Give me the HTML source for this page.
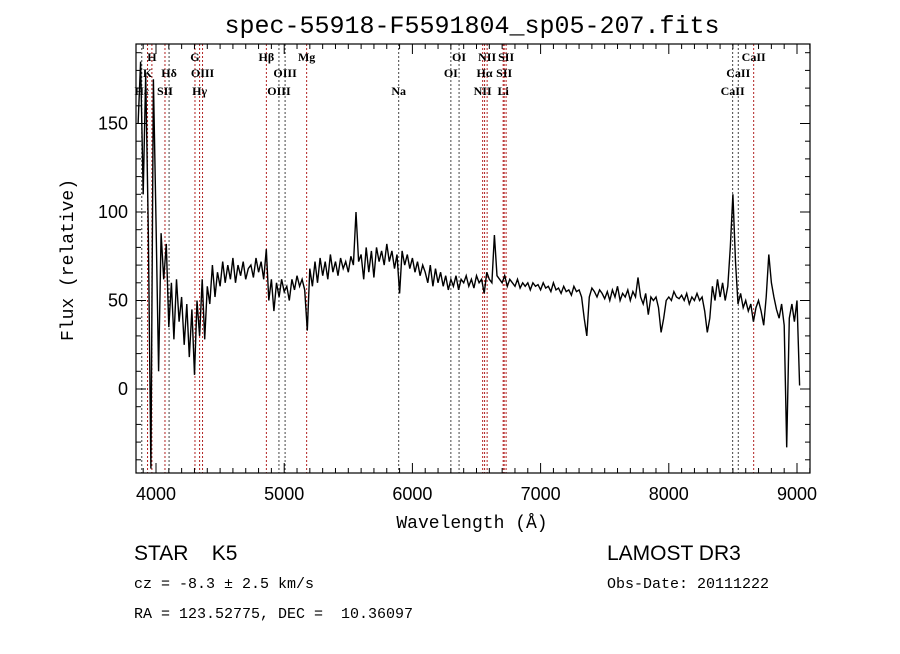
<!DOCTYPE html>
<html><head><meta charset="utf-8"><style>
body{margin:0;background:#fff}
svg text{font-family:"Liberation Sans",sans-serif}
.mono{font-family:"Liberation Mono",monospace}
.ser{font-family:"Liberation Serif",serif;font-weight:bold;font-size:12px}
</style></head><body>
<svg id="c" width="900" height="649" viewBox="0 0 900 649" xmlns="http://www.w3.org/2000/svg">
<rect width="900" height="649" fill="#fff"/>
<text class="mono" x="472" y="33" font-size="25" text-anchor="middle">spec-55918-F5591804_sp05-207.fits</text>
<g id="lines"></g>
<g id="ticks"></g>
<path id="spec" fill="none" stroke="#000" stroke-width="1.4"/>
<rect x="136" y="44" width="674" height="429" fill="none" stroke="#000" stroke-width="1.2"/>
<text class="mono" x="472" y="528" font-size="18" text-anchor="middle">Wavelength (Å)</text>
<text class="mono" transform="translate(73,260) rotate(-90)" font-size="18" text-anchor="middle">Flux (relative)</text>
<text x="134" y="560" font-size="21">STAR&#160;&#160;&#160;&#160;K5</text>
<text class="mono" x="134" y="588" font-size="15">cz = -8.3 ± 2.5 km/s</text>
<text class="mono" x="134" y="618" font-size="15">RA = 123.52775, DEC =&#160; 10.36097</text>
<text x="607" y="560" font-size="21">LAMOST DR3</text>
<text class="mono" x="607" y="588" font-size="15">Obs-Date: 20111222</text>
</svg>
<script>
const wl0 = 3860, dw = 20;
const flux = [150,185,110,178,90,-45,175,95,10,88,62,82,35,60,28,62,38,52,25,48,18,45,8,50,30,62,28,58,48,70,52,66,58,72,60,70,62,74,60,70,64,72,62,68,70,63,74,66,72,62,79,50,62,44,60,52,62,55,58,50,62,56,64,58,62,56,33,68,58,72,60,74,64,72,62,76,66,72,64,74,68,72,66,75,70,100,72,76,62,80,66,78,63,80,72,78,70,82,72,78,68,76,54,78,70,76,68,74,66,72,64,70,66,60,70,58,68,60,66,58,64,56,62,58,64,56,62,60,64,58,62,57,64,60,62,54,66,62,60,87,64,62,60,64,58,62,60,58,62,57,60,58,60,56,60,58,59,56,60,57,58,55,60,56,57,54,58,55,56,53,58,55,56,52,40,30,52,57,55,52,56,54,51,55,50,56,52,58,50,54,52,56,50,55,52,63,52,48,54,42,52,50,52,46,32,40,50,52,50,55,52,51,53,50,54,48,52,50,54,50,52,44,32,40,58,50,62,52,60,50,58,80,110,72,48,54,46,50,44,48,38,46,50,44,36,52,76,60,52,45,40,48,36,-33,40,48,38,50,2];
const lineWl = [3889,3934,3968,4070,4102,4304,4340,4363,4861,4959,5007,5175,5893,6300,6364,6548,6563,6583,6708,6716,6731,8498,8542,8662];
const lineRed = [0,1,1,1,0,1,1,1,1,0,0,1,0,0,0,1,1,1,1,1,1,0,0,1];
const labels = ["H","G","Hβ","Mg","OI","NII","SII","CaII","K","Hδ","OIII","OIII","OI","Hα","SII","CaII","Hε","SII","Hγ","OIII","Na","NII","Li","CaII"];
const labelWl = [3968,4304,4861,5175,6364,6583,6731,8662,3934,4102,4363,5007,6300,6563,6716,8542,3889,4070,4340,4959,5893,6548,6708,8498];
const labelRow = [0,0,0,0,0,0,0,0,1,1,1,1,1,1,1,1,2,2,2,2,2,2,2,2];
const xTicks = [4000,5000,6000,7000,8000,9000];
const yTicks = [0,50,100,150];
const X = w => 156 + (w-4000)*0.1282;
const Y = f => 389 - f*1.77;
const NS="http://www.w3.org/2000/svg";
function mk(t,a,p){const e=document.createElementNS(NS,t);for(const k in a)e.setAttribute(k,a[k]);p.appendChild(e);return e;}
let d="";
flux.forEach((f,i)=>{const x=X(wl0+i*dw),y=Math.max(44,Math.min(473,Y(f)));d+=(i?"L":"M")+x.toFixed(1)+","+y.toFixed(1);});
document.getElementById('spec').setAttribute('d',d);
const lg=document.getElementById('lines');
lineWl.forEach((w,i)=>{
 const l=mk('line',{x1:X(w),x2:X(w),y1:44,y2:473,stroke:lineRed[i]?'#b22222':'#444','stroke-width':1,'stroke-dasharray':'2,2'},lg);
 
 
});
const rowY=[61,77,95];
labels.forEach((s,i)=>{
 const t=mk('text',{x:X(labelWl[i]),y:rowY[labelRow[i]],'text-anchor':'middle',class:'ser'},lg);
 t.textContent=s;
 
 
});
const tg=document.getElementById('ticks');
for(let w=3900;w<=9100;w+=100){
 const major=w%1000===0,len=major?10:5,x=X(w);
 if(x<136||x>810)continue;
 mk('line',{x1:x,x2:x,y1:473,y2:473-len,stroke:'#000'},tg);
 mk('line',{x1:x,x2:x,y1:44,y2:44+len,stroke:'#000'},tg);
}
xTicks.forEach(w=>{const t=mk('text',{x:X(w),y:500,'font-size':18,'text-anchor':'middle'},tg);t.textContent=w;
 
 });
for(let f=-40;f<=190;f+=10){
 const major=f%50===0,len=major?10:5,y=Y(f);
 mk('line',{x1:136,x2:136+len,y1:y,y2:y,stroke:'#000'},tg);
 mk('line',{x1:810,x2:810-len,y1:y,y2:y,stroke:'#000'},tg);
}
yTicks.forEach(f=>{const t=mk('text',{x:128,y:Y(f)+6,'font-size':18,'text-anchor':'end'},tg);t.textContent=f;
 
 });
</script>
</body></html>
